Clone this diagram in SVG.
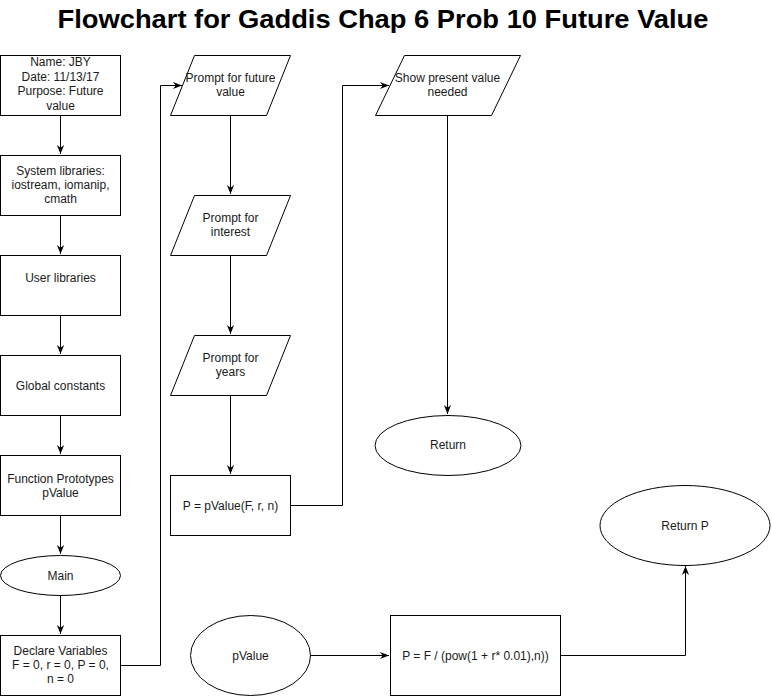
<svg xmlns="http://www.w3.org/2000/svg" width="772" height="696" viewBox="0 0 772 696">
<style>
.s{fill:#fff;stroke:#000;stroke-width:1}
.t{font-family:"Liberation Sans",Arial,sans-serif;font-size:12px;fill:#1a1a1a;text-anchor:middle}
.title{font-family:"Liberation Sans",Arial,sans-serif;font-size:26px;font-weight:bold;fill:#000;text-anchor:middle}
.c{fill:none;stroke:#000;stroke-width:1}
</style>
<defs>
<marker id="arr" viewBox="0 0 10 10" refX="10" refY="5" markerWidth="9" markerHeight="9" markerUnits="userSpaceOnUse" orient="auto">
<path d="M0,1 L10,5 L0,9 L3,5 z" fill="#000"/>
</marker>
</defs>
<rect width="772" height="696" fill="#fff"/>
<text class="title" x="383" y="28" textLength="651" lengthAdjust="spacingAndGlyphs">Flowchart for Gaddis Chap 6 Prob 10 Future Value</text>

<g id="connectors">
<path class="c" d="M60.5,115 V154" marker-end="url(#arr)"/>
<path class="c" d="M60.5,215 V254" marker-end="url(#arr)"/>
<path class="c" d="M60.5,315 V354" marker-end="url(#arr)"/>
<path class="c" d="M60.5,415 V454" marker-end="url(#arr)"/>
<path class="c" d="M60.5,515 V554" marker-end="url(#arr)"/>
<path class="c" d="M60.5,595 V634" marker-end="url(#arr)"/>
<path class="c" d="M121,665.5 H160.5 V85.5 H182" marker-end="url(#arr)"/>
<path class="c" d="M230.5,115 V194" marker-end="url(#arr)"/>
<path class="c" d="M230.5,255 V334" marker-end="url(#arr)"/>
<path class="c" d="M230.5,395 V474" marker-end="url(#arr)"/>
<path class="c" d="M290,505.5 H342.5 V85.5 H389" marker-end="url(#arr)"/>
<path class="c" d="M447.5,115 V414" marker-end="url(#arr)"/>
<path class="c" d="M310,655.5 H389" marker-end="url(#arr)"/>
<path class="c" d="M560,655.5 H685.5 V566" marker-end="url(#arr)"/>
</g>

<g id="n_header">
<rect class="s" x="0.5" y="55.5" width="120" height="60"/>
<text class="t" x="60.5" y="66">Name: JBY</text>
<text class="t" x="60.5" y="80.5">Date: 11/13/17</text>
<text class="t" x="60.5" y="95">Purpose: Future</text>
<text class="t" x="60.5" y="109.5">value</text>
</g>
<g id="n_syslib">
<rect class="s" x="0.5" y="155.5" width="120" height="60"/>
<text class="t" x="60.5" y="175">System libraries:</text>
<text class="t" x="60.5" y="189">iostream, iomanip,</text>
<text class="t" x="60.5" y="203">cmath</text>
</g>
<g id="n_userlib">
<rect class="s" x="0.5" y="255.5" width="120" height="60"/>
<text class="t" x="60.5" y="281.5">User libraries</text>
</g>
<g id="n_global">
<rect class="s" x="0.5" y="355.5" width="120" height="60"/>
<text class="t" x="60.5" y="389.5">Global constants</text>
</g>
<g id="n_proto">
<rect class="s" x="0.5" y="455.5" width="120" height="60"/>
<text class="t" x="60.5" y="482.5">Function Prototypes</text>
<text class="t" x="60.5" y="496.5">pValue</text>
</g>
<g id="n_main">
<ellipse class="s" cx="60.5" cy="575.5" rx="60" ry="20"/>
<text class="t" x="60.5" y="579.5">Main</text>
</g>
<g id="n_declare">
<rect class="s" x="0.5" y="635.5" width="120" height="60"/>
<text class="t" x="60.5" y="655">Declare Variables</text>
<text class="t" x="60.5" y="669">F = 0, r = 0, P = 0,</text>
<text class="t" x="60.5" y="683">n = 0</text>
</g>

<g id="n_promptF">
<polygon class="s" points="170.5,115.5 266.5,115.5 290.5,55.5 194.5,55.5"/>
<text class="t" x="230.5" y="81.5">Prompt for future</text>
<text class="t" x="230.5" y="96">value</text>
</g>
<g id="n_promptR">
<polygon class="s" points="170.5,255.5 266.5,255.5 290.5,195.5 194.5,195.5"/>
<text class="t" x="230.5" y="221.5">Prompt for</text>
<text class="t" x="230.5" y="236">interest</text>
</g>
<g id="n_promptN">
<polygon class="s" points="170.5,395.5 266.5,395.5 290.5,335.5 194.5,335.5"/>
<text class="t" x="230.5" y="361.5">Prompt for</text>
<text class="t" x="230.5" y="376">years</text>
</g>
<g id="n_call">
<rect class="s" x="170.5" y="475.5" width="120" height="60"/>
<text class="t" x="230.5" y="509.5">P = pValue(F, r, n)</text>
</g>

<g id="n_show">
<polygon class="s" points="375.5,115.5 491.5,115.5 520.5,55.5 404.5,55.5"/>
<text class="t" x="447.5" y="81.5">Show present value</text>
<text class="t" x="447.5" y="96">needed</text>
</g>
<g id="n_return">
<ellipse class="s" cx="448" cy="445.5" rx="73" ry="30"/>
<text class="t" x="448" y="449">Return</text>
</g>

<g id="n_pvalue">
<ellipse class="s" cx="250.5" cy="655.5" rx="60" ry="40"/>
<text class="t" x="250.5" y="659.5">pValue</text>
</g>
<g id="n_formula">
<rect class="s" x="390.5" y="615.5" width="170" height="80"/>
<text class="t" x="475.5" y="659.5">P = F / (pow(1 + r* 0.01),n))</text>
</g>
<g id="n_returnP">
<ellipse class="s" cx="685" cy="525.5" rx="85" ry="40"/>
<text class="t" x="685" y="529.5">Return P</text>
</g>
</svg>
